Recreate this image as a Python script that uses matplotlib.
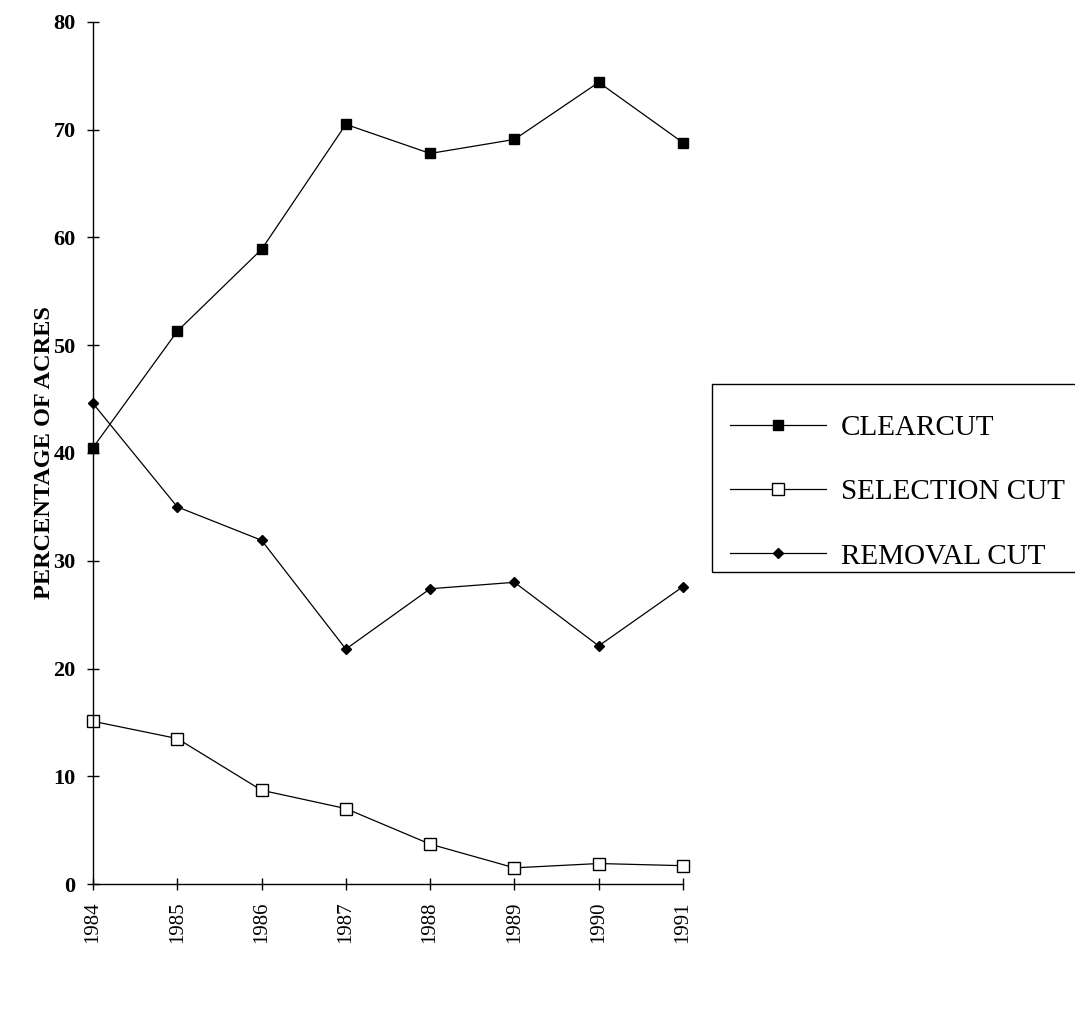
import matplotlib
matplotlib.use("Agg")
import matplotlib.pyplot as plt
from matplotlib.patches import Rectangle

years = [1984, 1985, 1986, 1987, 1988, 1989, 1990, 1991]
clearcut = [40.5, 51.3, 58.9, 70.5, 67.8, 69.1, 74.4, 68.8]
selection_cut = [15.1, 13.5, 8.7, 7.0, 3.7, 1.5, 1.9, 1.7]
removal_cut = [44.6, 35.0, 31.9, 21.8, 27.4, 28.0, 22.1, 27.6]
series_labels = ["CLEARCUT", "SELECTION CUT", "REMOVAL CUT"]
y_ticks = [0, 10, 20, 30, 40, 50, 60, 70, 80]

plt.rcParams['font.family'] = ['Liberation Serif', 'DejaVu Serif']

W, H = 1075, 1017
fig = plt.figure(figsize=(W / 100, H / 100), dpi=100)
ax = fig.add_axes([93/W, 1 - 884/H, (683 - 93)/W, (884 - 22)/H])

lw = 0.9
ax.plot(years, clearcut, color='black', lw=lw, marker='s', markersize=7.5,
        markerfacecolor='black', markeredgecolor='black', label=series_labels[0],
        clip_on=False)
ax.plot(years, selection_cut, color='black', lw=lw, marker='s', markersize=9,
        markerfacecolor='white', markeredgecolor='black', markeredgewidth=1.0,
        label=series_labels[1], clip_on=False)
ax.plot(years, removal_cut, color='black', lw=lw, marker='D', markersize=5,
        markerfacecolor='black', markeredgecolor='black', label=series_labels[2],
        clip_on=False)

ax.set_xlim(1984, 1991)
ax.set_ylim(0, 80)
ax.set_yticks(y_ticks)
ax.set_yticklabels([str(v) for v in y_ticks], fontweight='bold', fontsize=16)
ax.set_xticks(years)
ax.set_xticklabels([str(y) for y in years], rotation=90, fontsize=15)

for s in ['top', 'right']:
    ax.spines[s].set_visible(False)
for s in ['left', 'bottom']:
    ax.spines[s].set_linewidth(1.0)

ax.tick_params(axis='both', direction='inout', length=9, width=1.0)
ax.tick_params(axis='y', pad=8)
ax.tick_params(axis='x', pad=8)

ax.set_ylabel("PERCENTAGE OF ACRES", fontweight='bold', fontsize=17.5)
ax.yaxis.set_label_coords(-(93 - 55) / (683 - 93), 0.5)

# legend frame
fig.patches.append(Rectangle((712/W, 1 - 572/H), (1085 - 712)/W, (572 - 384)/H,
                             transform=fig.transFigure, fill=False,
                             edgecolor='black', linewidth=1.0))
leg = fig.legend(loc='center left', bbox_to_anchor=(730/W, 1 - 492/H),
                 frameon=False, fontsize=21, handlelength=3.3,
                 handletextpad=0.5, labelspacing=1.3, borderpad=0,
                 borderaxespad=0)

fig.savefig("out.png", dpi=100, facecolor='white')
